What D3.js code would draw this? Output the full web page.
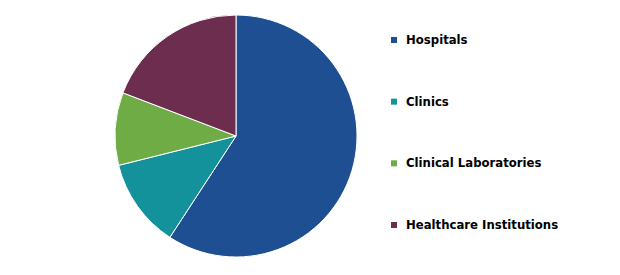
<!DOCTYPE html>
<html>
<head>
<meta charset="utf-8">
<script src="https://cdn.jsdelivr.net/npm/d3@7"></script>
<style>
  body { margin: 0; background: #fff; }
  svg { display: block; }
</style>
</head>
<body>
<div class="chart"></div>
<script>
// Chart data
var categories = ["Hospitals", "Clinics", "Clinical Laboratories", "Healthcare Institutions"];
var shares = [59.2, 11.9, 9.7, 19.2];
var colors = ["#1f4f93", "#13929b", "#70ac46", "#6c2d4f"];

var width = 620,
    height = 275,
    radius = 121;

var svg = d3.select(".chart")
    .append("svg")
    .attr("width", width)
    .attr("height", height)

var data = categories.map((c, i) => { return { name: c, value: shares[i], color: colors[i] } })

// Pie starts at 12 o'clock, goes clockwise, keeps data order
var pie = d3.pie()
    .value((d) => { return d.value })
    .sort(null)

var arc = d3.arc()
    .innerRadius(0)
    .outerRadius(radius)

var g = svg.append("g")
    .attr("transform", "translate(236,136)")

g.selectAll("path")
    .data(pie(data))
    .enter()
    .append("path")
    .attr("d", arc)
    .attr("fill", (d) => { return d.data.color })
    .attr("stroke", "#fff")
    .attr("stroke-width", 1)

// Legend on the right
var yScale = d3.scalePoint()
    .domain(categories)
    .range([40, 225])

var legend = svg.append("g")
    .selectAll("g")
    .data(data)
    .enter()
    .append("g")
    .attr("transform", (d) => { return "translate(391," + yScale(d.name) + ")" })

legend.append("rect")
    .attr("x", 0)
    .attr("y", -3)
    .attr("width", 6)
    .attr("height", 6)
    .attr("fill", (d) => { return d.color })

legend.append("text")
    .text((d) => { return d.name })
    .attr("x", 15)
    .attr("y", 0)
    .attr("dy", "0.35em")
    .attr("font-family", "DejaVu Sans, Verdana, sans-serif")
    .attr("font-weight", "bold")
    .attr("font-size", "11.7px")
    .attr("fill", "#000")
</script>
</body>
</html>
